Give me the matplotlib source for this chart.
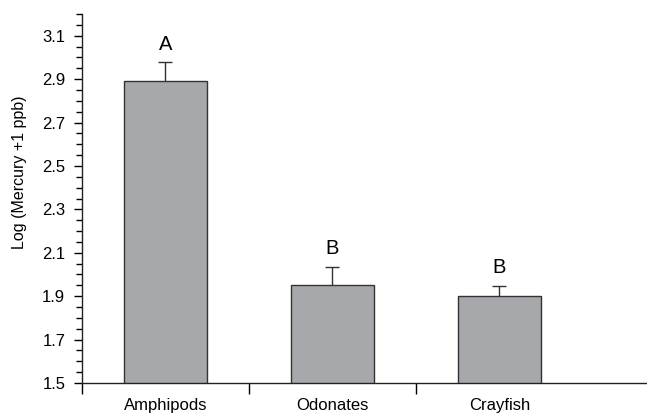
import matplotlib
matplotlib.use("Agg")
import matplotlib.pyplot as plt
from matplotlib.ticker import MultipleLocator, FixedLocator, NullFormatter

plt.rcParams["font.family"] = ["Liberation Sans", "DejaVu Sans"]

taxa = ["Amphipods", "Odonates", "Crayfish"]
log_hg = [2.892, 1.952, 1.901]
se = [0.085, 0.084, 0.046]
groups = ["A", "B", "B"]
ytick_vals = [1.5, 1.7, 1.9, 2.1, 2.3, 2.5, 2.7, 2.9, 3.1]

fig = plt.figure(figsize=(6.47, 4.16), dpi=100)
ax = fig.add_axes([0.1267, 0.0793, 0.8733, 0.887])

x = list(range(len(taxa)))
ax.bar(x, log_hg, width=0.5, color="#a7a8ab", edgecolor="#333333", linewidth=1.0, zorder=2)
_, caps, _ = ax.errorbar(x, log_hg, yerr=[[0] * len(se), se], fmt="none", ecolor="#333333",
                         elinewidth=1.0, capsize=4.7, capthick=1.0, zorder=3)
# only the upper cap is wanted
caps[0].set_visible(False)

for xi, v, e, g in zip(x, log_hg, se, groups):
    ax.text(xi, v + e + 0.058, g, ha="center", va="baseline", fontsize=14.5)

ax.set_ylim(1.5, 3.2)
ax.set_xlim(-0.5, -0.5 + 565 / 167)

ax.yaxis.set_major_locator(FixedLocator(ytick_vals))
ax.yaxis.set_minor_locator(MultipleLocator(0.05))
ax.set_yticklabels([f"{v:.1f}" for v in ytick_vals])

# category labels centred under bars, tick marks between categories
ax.set_xticks(x)
ax.set_xticklabels(taxa)
ax.xaxis.set_minor_locator(FixedLocator([-0.5, 0.5, 1.5]))
ax.xaxis.set_minor_formatter(NullFormatter())
ax.tick_params(axis="x", which="major", length=0, pad=11, labelsize=12)
ax.tick_params(axis="x", which="minor", length=8, width=1.0, direction="out")
ax.tick_params(axis="y", which="major", length=6, width=1.0, direction="out", labelsize=12, pad=6)
ax.tick_params(axis="y", which="minor", length=4, width=1.0, direction="out")

ax.set_ylabel("Log (Mercury +1 ppb)", fontsize=11.5)
ax.yaxis.set_label_coords(-0.097, 0.572)

for side in ("top", "right"):
    ax.spines[side].set_visible(False)
for side in ("left", "bottom"):
    ax.spines[side].set_linewidth(1.0)
    ax.spines[side].set_color("#222222")

fig.savefig("out.png", dpi=100)
